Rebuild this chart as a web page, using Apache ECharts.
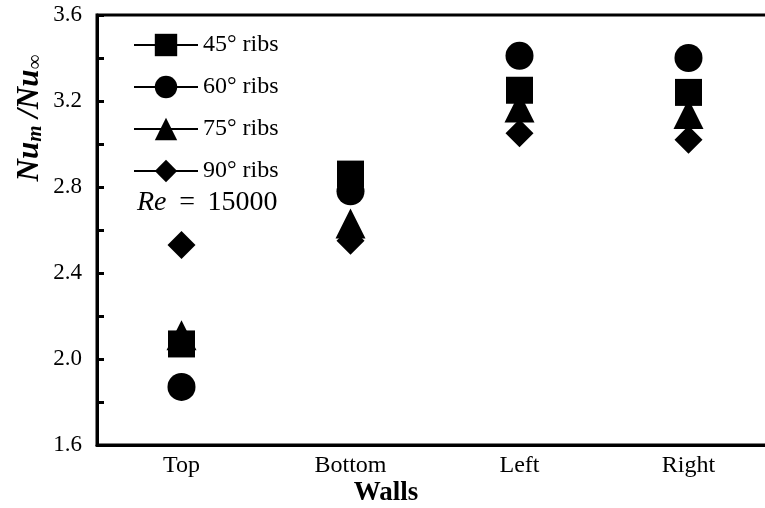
<!DOCTYPE html>
<html>
<head>
<meta charset="utf-8">
<script src="https://cdn.jsdelivr.net/npm/echarts@6/dist/echarts.min.js"></script>
<style>html,body{margin:0;padding:0;background:#fff}#c{width:765px;height:508px}</style>
</head>
<body>
<div id="c"></div>
<script>
const categories = ['Top', 'Bottom', 'Left', 'Right'];
const ribs45 = [2.07, 2.86, 3.25, 3.24];
const ribs60 = [1.87, 2.78, 3.41, 3.40];
const ribs75 = [2.11, 2.63, 3.17, 3.14];
const ribs90 = [2.53, 2.55, 3.05, 3.02];
const seriesNames = ['45\u00b0 ribs', '60\u00b0 ribs', '75\u00b0 ribs', '90\u00b0 ribs'];
const yTicks = [1.6, 2.0, 2.4, 2.8, 3.2, 3.6];

const FONT = 'Liberation Serif';
const chart = echarts.init(document.getElementById('c'));
function mk(name, data, symbol, size) {
  return {
    name: name, type: 'line', data: data, symbol: symbol, symbolSize: size,
    itemStyle: {color: '#000'}, lineStyle: {opacity: 0, color: '#000'},
    emphasis: {disabled: true}, silent: true
  };
}
chart.setOption({
  animation: false,
  grid: {left: 97, top: 15, width: 676, bottom: 63, outerBoundsMode: 'none', containLabel: false,
         show: true, borderColor: '#000', borderWidth: 3},
  legend: {
    orient: 'vertical', left: 128, top: 28, itemWidth: 64, itemHeight: 28, itemGap: 18,
    textStyle: {fontFamily: FONT, fontSize: 24, color: '#000'},
    lineStyle: {color: '#000', width: 2, opacity: 1},
    data: seriesNames
  },
  xAxis: {
    type: 'category', data: categories, boundaryGap: true,
    axisLine: {lineStyle: {color: '#000', width: 3}},
    axisTick: {inside: true, alignWithLabel: true, length: 7, lineStyle: {color: '#000', width: 3}},
    axisLabel: {fontFamily: FONT, fontSize: 24, color: '#000', margin: 9}
  },
  yAxis: {
    type: 'value', min: 1.6, max: 3.6, interval: 0.2,
    splitLine: {show: false},
    axisLine: {show: true, lineStyle: {color: '#000', width: 3}},
    axisTick: {show: true, inside: true, length: 7, lineStyle: {color: '#000', width: 3}},
    axisLabel: {
      fontFamily: FONT, fontSize: 23, color: '#000', margin: 15,
      formatter: function (v) {
        for (const t of yTicks) { if (Math.abs(v - t) < 1e-6) return t.toFixed(1); }
        return '';
      }
    }
  },
  graphic: [
    {type: 'text', x: 137, y: 203, style: {
      text: '{i|Re} \u2009=\u2009 15000', fontFamily: FONT, fontSize: 28, fill: '#000', verticalAlign: 'middle',
      rich: {i: {fontFamily: FONT, fontSize: 28, fontStyle: 'italic', fill: '#000'}}
    }},
    {type: 'text', x: 386, y: 493, style: {
      text: 'Walls', fontFamily: FONT, fontSize: 27, fontWeight: 'bold', fill: '#000',
      align: 'center', verticalAlign: 'middle'
    }},
    {type: 'text', x: 30, y: 118, rotation: Math.PI / 2, style: {
      text: '{b|Nu}{s|m}{b| /Nu}{s|\u221e}', align: 'center', verticalAlign: 'middle',
      rich: {
        b: {fontFamily: FONT, fontSize: 31, fontStyle: 'italic', fontWeight: 'bold', fill: '#000'},
        s: {fontFamily: FONT, fontSize: 21, fontStyle: 'italic', fontWeight: 'bold', fill: '#000', padding: [12, 0, 0, 0]}
      }
    }}
  ],
  series: [
    mk(seriesNames[2], ribs75, 'triangle', 30),
    mk(seriesNames[0], ribs45, 'rect', 27),
    mk(seriesNames[1], ribs60, 'circle', 28),
    mk(seriesNames[3], ribs90, 'diamond', 28)
  ]
});
</script>
</body>
</html>
